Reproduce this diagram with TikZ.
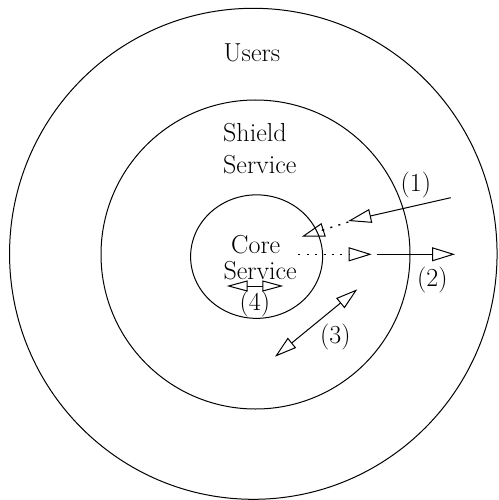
\documentclass[tikz,border=0pt]{standalone}
\usetikzlibrary{arrows.meta,shapes.geometric,calc}
\begin{document}
\begin{tikzpicture}[x=1pt,y=-1pt,
  ring/.style={draw, ellipse, line width=1pt, inner sep=0pt},
  lbl/.style={anchor=base west, inner sep=0pt, font=\fontsize{26}{30}\selectfont},
  conn/.style={line width=1pt},
  dots/.style={line width=1.4pt, dash pattern=on 2pt off 6.4pt},
  tipr/.style={-{Triangle[open, length=23pt, width=14pt, line width=1pt]}},
  dbl/.style={{Triangle[open, length=22pt, width=13pt, line width=1pt]}-{Triangle[open, length=22pt, width=13pt, line width=1pt]}}]
\useasboundingbox (0,0) rectangle (498,500);
\node[ring, minimum width=487.5pt, minimum height=491pt] (outer) at (253.3,253.8) {};
\node[ring, minimum width=309pt, minimum height=309pt] (shield) at (255.5,254.5) {};
\node[ring, minimum width=132pt, minimum height=123.5pt] (core) at (256.6,256.6) {};
\node[lbl] (users) at (223.5,61.7) {Users};
\node[lbl] (shieldA) at (223,141) {Shield};
\node[lbl] (shieldB) at (223,173.3) {Service};
\node[lbl] (coreA) at (231,253.3) {Core};
\node[lbl] (coreB) at (223.3,279) {Service};
\node[lbl] (l1) at (400.5,191) {(1)};
\node[lbl] (l2) at (417,286) {(2)};
\node[lbl] (l3) at (320,343.3) {(3)};
\node[lbl] (l4) at (239.5,310) {(4)};
% arrow (1)
\coordinate (a1s) at (450.7,197.7);
\coordinate (a1t) at (348.3,221);
\coordinate (a1d) at (348.3,222);
\coordinate (a1e) at (301.7,236.7);
\draw[conn,tipr] (a1s) -- (a1t);
\draw[dots] (a1d) -- ($(a1e)!20pt!(a1d)$);
\draw[conn,tipr] ($(a1e)!21pt!(a1d)$) -- (a1e);
% arrow (2)
\coordinate (a2s) at (298.3,254.3);
\coordinate (a2t) at (371.7,254.3);
\coordinate (a2u) at (376.7,254.3);
\coordinate (a2e) at (455,254.3);
\draw[dots] (a2s) -- (350,254.3);
\draw[conn,tipr] (349,254.3) -- (a2t);
\draw[conn,tipr] (a2u) -- (a2e);
% arrow (3)
\coordinate (a3s) at (275,356.7);
\coordinate (a3e) at (357.3,289.3);
\draw[conn,dbl] (a3s) -- (a3e);
% arrow (4)
\coordinate (a4s) at (226.7,286);
\coordinate (a4e) at (283.3,286);
\draw[conn,{Triangle[open, length=21pt, width=11pt, line width=1pt]}-{Triangle[open, length=21pt, width=11pt, line width=1pt]}] (a4s) -- (a4e);
\end{tikzpicture}
\end{document}
